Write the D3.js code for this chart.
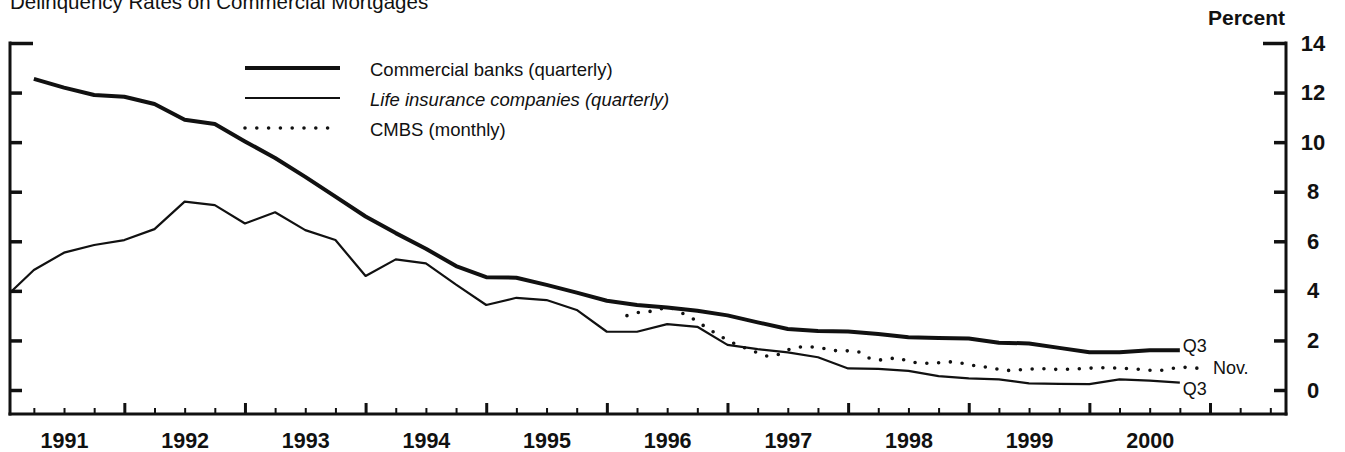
<!DOCTYPE html>
<html>
<head>
<meta charset="utf-8">
<script src="https://cdn.jsdelivr.net/npm/d3@7"></script>
<style>
  body { margin: 0; background: #fff; }
  svg { display: block; }
  text { font-family: "Liberation Sans", Arial, Helvetica, sans-serif; fill: #111; }
</style>
</head>
<body>
<svg id="chart" width="1345" height="452"></svg>
<script>
// Quarterly series (first quarter listed, values in percent)
const commercialStart = "1991Q1";
const commercialBanks = [12.55, 12.2, 11.9, 11.83, 11.54, 10.9, 10.73, 10.03, 9.36, 8.6,
  7.8, 7.0, 6.33, 5.7, 5.0, 4.55, 4.53, 4.24, 3.93, 3.6,
  3.43, 3.33, 3.2, 3.01, 2.73, 2.46, 2.38, 2.36, 2.26, 2.13,
  2.1, 2.08, 1.91, 1.88, 1.7, 1.52, 1.52, 1.6, 1.6];

const lifeStart = "1990Q4";
const lifeInsurance = [3.68, 4.84, 5.54, 5.85, 6.05, 6.49, 7.6, 7.46, 6.72, 7.17,
  6.45, 6.05, 4.6, 5.27, 5.11, 4.25, 3.43, 3.72, 3.63, 3.23,
  2.35, 2.35, 2.66, 2.55, 1.82, 1.65, 1.52, 1.32, 0.87, 0.85,
  0.77, 0.56, 0.47, 0.43, 0.27, 0.25, 0.24, 0.43, 0.38, 0.3];

// Monthly series
const cmbsStart = "1996-02";
const cmbs = [3.0, 3.12, 3.16, 3.2, 3.38, 3.2, 3.0, 2.78, 2.48, 2.25,
  2.0, 1.82, 1.66, 1.5, 1.36, 1.42, 1.62, 1.73, 1.75, 1.71,
  1.65, 1.57, 1.58, 1.55, 1.3, 1.2, 1.26, 1.3, 1.15, 1.09,
  1.08, 1.1, 1.14, 1.1, 1.04, 0.94, 0.92, 0.83, 0.79, 0.81,
  0.84, 0.87, 0.84, 0.83, 0.84, 0.86, 0.88, 0.9, 0.9, 0.88,
  0.86, 0.83, 0.8, 0.78, 0.85, 0.92, 0.91, 0.87];

const yearLabels = ["1991", "1992", "1993", "1994", "1995", "1996", "1997", "1998", "1999", "2000"];
const yTicks = [0, 2, 4, 6, 8, 10, 12, 14];

const title = "Delinquency Rates on Commercial Mortgages";
const unitLabel = "Percent";
const legendItems = [
  { key: "banks", label: "Commercial banks (quarterly)", italic: false },
  { key: "life", label: "Life insurance companies (quarterly)", italic: true },
  { key: "cmbs", label: "CMBS (monthly)", italic: false }
];
const endLabels = { banks: "Q3", life: "Q3", cmbs: "Nov." };

// ---- helpers: place each observation at the end of its period ----
function quarterSeries(start, values) {
  const y0 = +start.slice(0, 4), q0 = +start.slice(5);
  return values.map((v, i) => {
    const q = q0 - 1 + i;
    return { t: y0 + (q + 1) / 4, v };
  });
}
function monthSeries(start, values) {
  const y0 = +start.slice(0, 4), m0 = +start.slice(5);
  return values.map((v, i) => {
    const m = m0 - 1 + i;
    return { t: y0 + (m + 1) / 12, v };
  });
}

const bankData = quarterSeries(commercialStart, commercialBanks);
const lifeData = quarterSeries(lifeStart, lifeInsurance);
const cmbsData = monthSeries(cmbsStart, cmbs);

// ---- layout ----
const svg = d3.select("#chart");
const plotLeft = 10, plotRight = 1286, plotTop = 43, plotBottom = 414;

const x = d3.scaleLinear().domain([1991, 2001.63]).range([3.7, 1286]);
const y = d3.scaleLinear().domain([0, 14]).range([390, 43]);

svg.append("defs").append("clipPath").attr("id", "plot-clip")
  .append("rect")
  .attr("x", plotLeft).attr("y", 0)
  .attr("width", plotRight - plotLeft).attr("height", plotBottom);

// Title (sits at the very top edge)
svg.append("text")
  .attr("x", 10).attr("y", 9)
  .style("font-size", "20.5px")
  .text(title);

// Unit label
svg.append("text")
  .attr("x", 1285).attr("y", 25)
  .attr("text-anchor", "end")
  .style("font-size", "21px")
  .style("font-weight", "bold")
  .text(unitLabel);

// ---- axes ----
const tickStroke = sel => sel.selectAll("line").attr("stroke", "#111").attr("stroke-width", 3.5);

const leftAxis = svg.append("g")
  .attr("transform", `translate(${plotLeft},0)`)
  .call(d3.axisRight(y).tickValues(yTicks).tickSize(12).tickFormat(""));
leftAxis.select(".domain").remove();
leftAxis.call(tickStroke);
leftAxis.selectAll(".tick line").filter(d => d === 14).attr("x2", 23);

const rightAxis = svg.append("g")
  .attr("transform", `translate(${plotRight},0)`)
  .call(d3.axisLeft(y).tickValues(yTicks).tickSize(12).tickFormat(""));
rightAxis.select(".domain").remove();
rightAxis.call(tickStroke);
rightAxis.selectAll(".tick line").filter(d => d === 14).attr("x2", -23);

const rightLabels = svg.append("g")
  .attr("transform", `translate(${plotRight},0)`)
  .call(d3.axisRight(y).tickValues(yTicks).tickSize(0).tickFormat(d3.format("d")));
rightLabels.select(".domain").remove();
rightLabels.selectAll("text")
  .attr("x", 27)
  .attr("text-anchor", "middle")
  .attr("fill", "#111")
  .style("font-size", "22px")
  .style("font-weight", "bold")
  .style("font-family", "'Liberation Sans', Arial, sans-serif");

// quarterly ticks along the bottom, year boundaries taller
const quarterTicks = d3.range(1991.25, 2001.6, 0.25);
const bottomAxis = svg.append("g")
  .attr("transform", `translate(0,${plotBottom})`)
  .call(d3.axisTop(x).tickValues(quarterTicks).tickSize(6).tickFormat(""));
bottomAxis.select(".domain").remove();
bottomAxis.selectAll("line").attr("stroke", "#111").attr("stroke-width", 2);
bottomAxis.selectAll(".tick line")
  .filter(d => Math.abs(d - Math.round(d)) < 1e-6)
  .attr("y2", -11).attr("stroke-width", 3);

const yearAxis = svg.append("g")
  .attr("transform", `translate(0,${plotBottom})`)
  .call(d3.axisBottom(x)
    .tickValues(yearLabels.map(s => +s + 0.5))
    .tickSize(0)
    .tickFormat((d, i) => yearLabels[i]));
yearAxis.select(".domain").remove();
yearAxis.selectAll("text")
  .attr("y", 34)
  .attr("dy", 0)
  .attr("fill", "#111")
  .style("font-size", "21.5px")
  .style("font-weight", "bold")
  .style("font-family", "'Liberation Sans', Arial, sans-serif");

// frame lines
const frame = svg.append("g").attr("stroke", "#111").attr("stroke-width", 3).attr("fill", "none");
frame.append("line").attr("x1", plotLeft).attr("x2", plotLeft).attr("y1", plotTop - 1.5).attr("y2", plotBottom + 1.5);
frame.append("line").attr("x1", plotRight).attr("x2", plotRight).attr("y1", plotTop - 1.5).attr("y2", plotBottom + 1.5);
frame.append("line").attr("x1", plotLeft - 1.5).attr("x2", plotRight + 1.5).attr("y1", plotBottom).attr("y2", plotBottom);

// ---- series ----
const line = d3.line().x(d => x(d.t)).y(d => y(d.v));
const styles = {
  banks: { width: 4, dash: null },
  life: { width: 2.2, dash: null },
  cmbs: { width: 3.6, dash: "0 11.8" }
};

const series = svg.append("g").attr("clip-path", "url(#plot-clip)");
[["life", lifeData], ["cmbs", cmbsData], ["banks", bankData]].forEach(([key, data]) => {
  series.append("path")
    .datum(data)
    .attr("d", line)
    .attr("fill", "none")
    .attr("stroke", "#111")
    .attr("stroke-width", styles[key].width)
    .attr("stroke-linejoin", "round")
    .attr("stroke-linecap", key === "cmbs" ? "round" : "butt")
    .attr("stroke-dasharray", styles[key].dash);
});

// end-of-series labels
const lastBank = bankData[bankData.length - 1];
const lastLife = lifeData[lifeData.length - 1];
const lastCmbs = cmbsData[cmbsData.length - 1];
const endGroup = svg.append("g").style("font-size", "18px");
endGroup.append("text")
  .attr("x", x(lastBank.t) + 3).attr("y", y(lastBank.v) - 4)
  .attr("dominant-baseline", "central")
  .text(endLabels.banks);
endGroup.append("text")
  .attr("x", x(lastLife.t) + 3).attr("y", y(lastLife.v) + 6)
  .attr("dominant-baseline", "central")
  .text(endLabels.life);
endGroup.append("text")
  .attr("x", x(lastCmbs.t) + 13).attr("y", y(lastCmbs.v))
  .attr("dominant-baseline", "central")
  .text(endLabels.cmbs);

// ---- legend ----
const legend = svg.append("g");
const legendRowY = [68, 98, 128];
legendItems.forEach((item, i) => {
  const ly = legendRowY[i];
  legend.append("line")
    .attr("x1", 245).attr("x2", item.key === "cmbs" ? 335 : 340)
    .attr("y1", ly).attr("y2", ly)
    .attr("stroke", "#111")
    .attr("stroke-width", styles[item.key].width)
    .attr("stroke-linecap", item.key === "cmbs" ? "round" : "butt")
    .attr("stroke-dasharray", styles[item.key].dash);
  legend.append("text")
    .attr("x", 370).attr("y", ly + 1)
    .attr("dominant-baseline", "central")
    .style("font-size", "18.5px")
    .style("font-style", item.italic ? "italic" : "normal")
    .text(item.label);
});
</script>
</body>
</html>
